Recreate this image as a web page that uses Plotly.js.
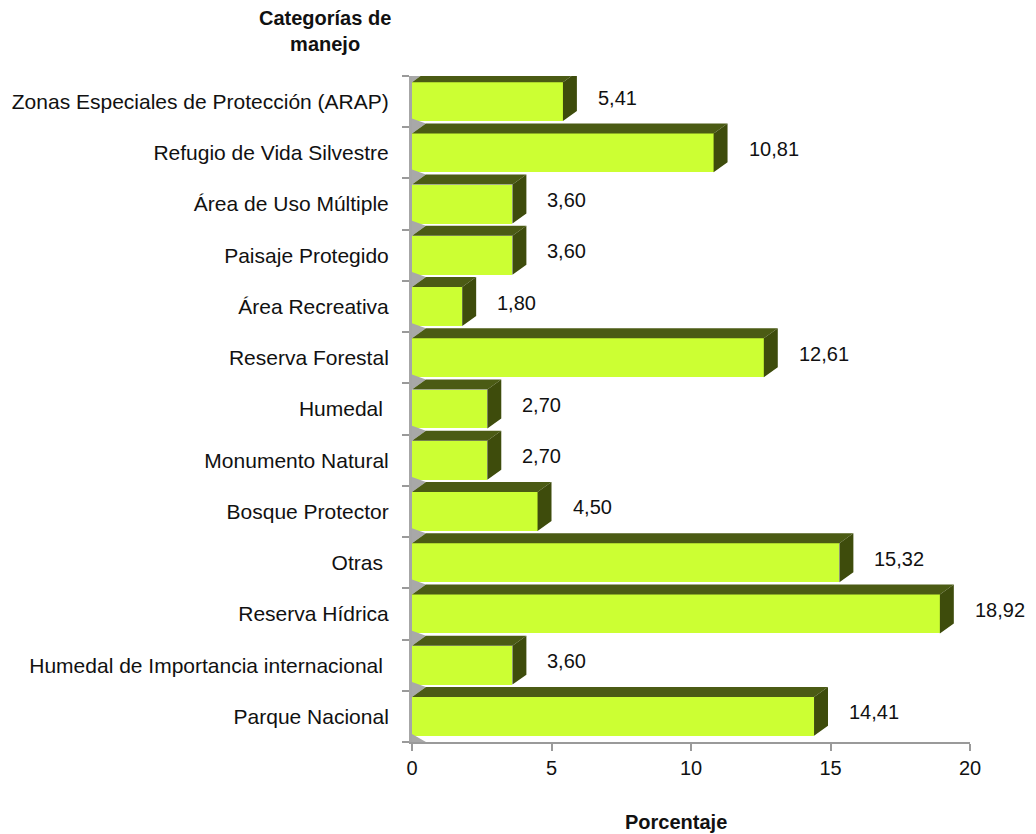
<!DOCTYPE html>
<html>
<head>
<meta charset="utf-8">
<script src="https://cdn.plot.ly/plotly-3.0.1.min.js"></script>
<style>html,body{margin:0;padding:0;background:#fff;}#chart{width:1036px;height:834px;}</style>
</head>
<body>
<div id="chart"></div>
<script>
// Data (bottom to top)
const categories = [
  "Parque Nacional",
  "Humedal de Importancia internacional\u00a0",
  "Reserva Hídrica",
  "Otras\u00a0",
  "Bosque Protector",
  "Monumento Natural",
  "Humedal\u00a0",
  "Reserva Forestal",
  "Área Recreativa",
  "Paisaje Protegido",
  "Área de Uso Múltiple",
  "Refugio de Vida Silvestre",
  "Zonas Especiales de Protección (ARAP)"
];
const values = [14.41, 3.60, 18.92, 15.32, 4.50, 2.70, 2.70, 12.61, 1.80, 3.60, 3.60, 10.81, 5.41];
const xTicks = [0, 5, 10, 15, 20];
const xTitle = "Porcentaje";
const yTitle = "Categorías de<br>manejo";

// style constants (3D look)
const H = 0.38;      // half bar height (category units)
const DX = 0.5;      // depth in x units
const DY = 0.195;    // depth in category units
const FRONT = "#CCFF33";
const TOP = "#4B5B14";
const SIDE = "#3E4C0C";
const WALL = "#A8A8A8";

const idx = categories.map((c, i) => i);

const topX = [], topY = [], sideX = [], sideY = [], wallX = [], wallY = [];
values.forEach((v, i) => {
  const yt = i + H;
  topX.push(0, v, v + DX, DX, 0, null);
  topY.push(yt, yt, yt + DY, yt + DY, yt, null);
  sideX.push(v, v + DX, v + DX, v, v, null);
  sideY.push(i - H, i - H + DY, yt + DY, yt, i - H, null);
  wallX.push(0, DX, 0, 0, null);
  wallY.push(yt, yt + DY, yt + DY * 1.5, yt, null);
});
wallX.push(0, DX, 0, 0);
wallY.push(-0.5, -0.5 + 0.0001, -0.5 + DY * 0.8, -0.5);

const traces = [
  {type: "scatter", x: wallX, y: wallY, mode: "lines", fill: "toself",
   fillcolor: WALL, line: {width: 0, color: WALL}, hoverinfo: "skip", showlegend: false},
  {type: "bar", orientation: "h", x: values, y: idx, width: 2 * H,
   marker: {color: FRONT, line: {width: 0}}, hoverinfo: "x", showlegend: false},
  {type: "scatter", x: topX, y: topY, mode: "lines", fill: "toself",
   fillcolor: TOP, line: {width: 0, color: TOP}, hoverinfo: "skip", showlegend: false},
  {type: "scatter", x: sideX, y: sideY, mode: "lines", fill: "toself",
   fillcolor: SIDE, line: {width: 0, color: SIDE}, hoverinfo: "skip", showlegend: false}
];

const boundaries = [];
for (let i = 0; i <= categories.length; i++) boundaries.push(i - 0.5);

const L = 412, R = 66, T = 76, B = 92, W = 1036, HH = 834;
const pw = W - L - R, ph = HH - T - B;

const annotations = values.map((v, i) => ({
  x: v, y: i, xref: "x", yref: "y", xanchor: "left", yanchor: "middle",
  xshift: 33, yshift: 4, showarrow: false,
  text: v.toFixed(2).replace(".", ","),
  font: {size: 20, color: "#111"}
}));
annotations.push({
  x: (325 - L) / pw, y: (HH - B - 31) / ph, xref: "paper", yref: "paper",
  xanchor: "center", yanchor: "middle", showarrow: false,
  text: "<b>" + yTitle + "</b>", font: {size: 20, color: "#111"}, align: "center"
});
annotations.push({
  x: (676 - L) / pw, y: (HH - B - 822) / ph, xref: "paper", yref: "paper",
  xanchor: "center", yanchor: "middle", showarrow: false,
  text: "<b>" + xTitle + "</b>", font: {size: 20, color: "#111"}, align: "center"
});

const layout = {
  width: W, height: HH,
  margin: {l: L, r: R, t: T, b: B},
  paper_bgcolor: "#ffffff", plot_bgcolor: "#ffffff",
  font: {family: "Liberation Sans, Arial, sans-serif", color: "#111"},
  showlegend: false,
  bargap: 0,
  xaxis: {
    range: [0, 20], tickmode: "array", tickvals: xTicks,
    ticks: "outside", ticklen: 7, tickwidth: 2, tickcolor: "#9a9a9a",
    showline: true, linecolor: "#9a9a9a", linewidth: 2,
    showgrid: false, zeroline: false, fixedrange: true,
    tickfont: {size: 20, color: "#111"}
  },
  yaxis: {
    range: [-0.5, categories.length - 0.5], tickmode: "array",
    tickvals: idx, ticktext: categories,
    ticks: "outside", ticklen: 16, tickcolor: "rgba(0,0,0,0)",
    minor: {tickmode: "array", tickvals: boundaries, ticks: "outside", ticklen: 7, tickwidth: 2, tickcolor: "#9a9a9a"},
    showline: true, linecolor: "#a6a6a6", linewidth: 3,
    showgrid: false, zeroline: false, fixedrange: true,
    tickfont: {size: 21, color: "#111"}
  },
  annotations: annotations
};

Plotly.newPlot("chart", traces, layout, {displayModeBar: false, staticPlot: true});
</script>
</body>
</html>
